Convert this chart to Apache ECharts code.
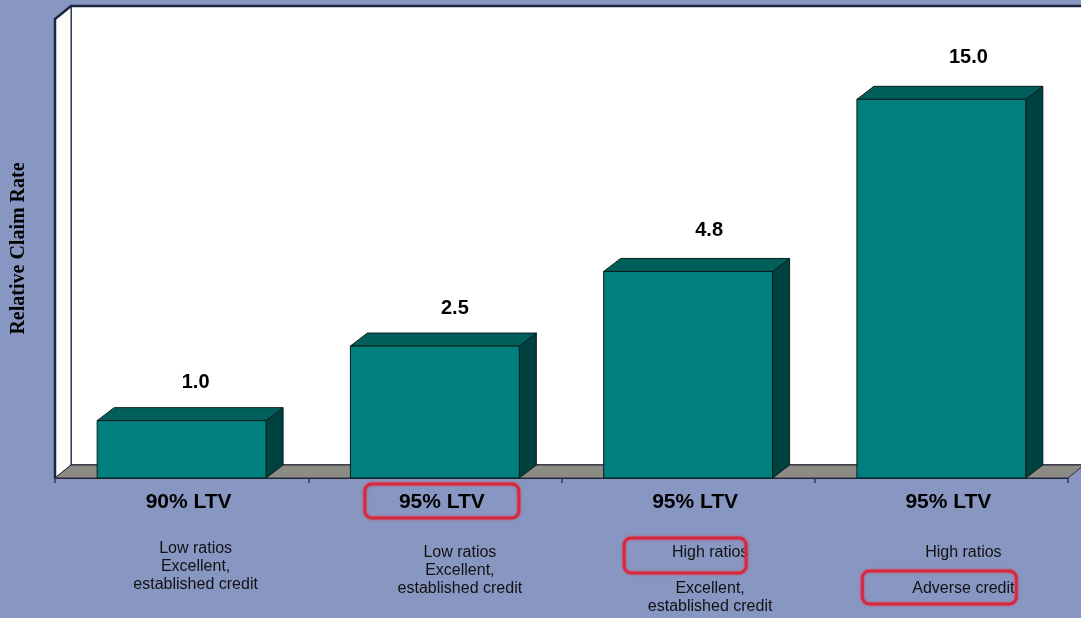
<!DOCTYPE html>
<html><head><meta charset="utf-8">
<script src="https://cdn.jsdelivr.net/npm/echarts@6/dist/echarts.min.js"></script>
<style>html,body{margin:0;padding:0;background:#8797c2;} #c{width:1081px;height:618px;}</style>
</head><body><div id="c"></div>
<script>
// ---- data ----
const categories = ['90% LTV', '95% LTV', '95% LTV', '95% LTV'];
const claimRates = [1.0, 2.5, 4.8, 15.0];          // printed value labels
const barHeights = [1.0, 2.3, 3.6, 6.6];           // drawn bar heights as seen in the picture
const ratioNotes = ['Low ratios', 'Low ratios', 'High ratios', 'High ratios'];
const creditNotes = ['Excellent,\nestablished credit', 'Excellent,\nestablished credit', 'Excellent,\nestablished credit', 'Adverse credit'];
const markCategory = [false, true, false, false];
const markRatio = [false, false, true, false];
const markCredit = [false, false, false, true];

// ---- layout (positions / styles) ----
const DX = 17, DY = 13;
const labelDx = [14, 20, 21, 27];
const labelDy = [38, 38, 41, 42];
const noteDx = [14, 25, 22, 22];
const ratioY = [71, 75, 75, 75];
const creditY = [89, 93, 111, 111];
const boxLayout = {
  category: { dx: 7, y: 6, w: 154, h: 34 },
  ratio: { dx: -3, y: 60, w: 122, h: 35 },
  credit: { dx: -2, y: 93, w: 154, h: 33 }
};
const FONT = 'Arial, "Liberation Sans", Helvetica, sans-serif';
const RED = '#d8283c';

function box(cx, yb, L) {
  return {
    type: 'rect',
    shape: { x: cx + L.dx - L.w / 2, y: yb + L.y, width: L.w, height: L.h, r: 7 },
    style: { fill: 'none', stroke: RED, lineWidth: 3, shadowBlur: 3, shadowColor: 'rgba(235,40,60,0.7)' },
    z2: 20
  };
}

function renderWalls(params, api) {
  const cs = params.coordSys;
  const x = cs.x, y = cs.y, w = cs.width, h = cs.height;
  const yb = y + h;
  const d = 16, e = 13;
  const edge = '#1c2340';
  return {
    type: 'group',
    children: [
      { type: 'rect', shape: { x: x + d, y: y - e, width: w + 10, height: h }, style: { fill: '#ffffff', stroke: edge, lineWidth: 1.5 } },
      { type: 'polygon', shape: { points: [[x, y], [x + d, y - e], [x + d, yb - e], [x, yb]] }, style: { fill: '#fdfdfb', stroke: edge, lineWidth: 1 } },
      { type: 'polyline', shape: { points: [[x, yb], [x, y], [x + d, y - e], [x + w + 20, y - e]] }, style: { fill: 'none', stroke: edge, lineWidth: 2.5 } },
      { type: 'polygon', shape: { points: [[x, yb], [x + d, yb - e], [x + w + d, yb - e], [x + w, yb]] }, style: { fill: '#8c8b86', stroke: '#2a2a30', lineWidth: 1 } }
    ]
  };
}

function renderBar(params, api) {
  const i = api.value(0);
  const h = api.value(1);
  const base = api.coord([i, 0]);
  const top = api.coord([i, h]);
  const bw = api.size([1, 0])[0] * 0.667;
  const cx = base[0];
  const x0 = cx - bw / 2, x1 = cx + bw / 2;
  const yb = base[1], yt = top[1];
  const out = '#0b1c1c';
  const children = [
    { type: 'polygon', shape: { points: [[x1, yb], [x1, yt], [x1 + DX, yt - DY], [x1 + DX, yb - DY]] }, style: { fill: '#00423f', stroke: out, lineWidth: 1 } },
    { type: 'polygon', shape: { points: [[x0, yt], [x0 + DX, yt - DY], [x1 + DX, yt - DY], [x1, yt]] }, style: { fill: '#005f5b', stroke: out, lineWidth: 1 } },
    { type: 'rect', shape: { x: x0, y: yt, width: bw, height: yb - yt }, style: { fill: '#007f7e', stroke: out, lineWidth: 1 } },
    { type: 'text', x: cx + labelDx[i], y: yt - labelDy[i], style: { text: claimRates[i].toFixed(1), fill: '#000', font: 'bold 20px ' + FONT, align: 'center', verticalAlign: 'middle' } },
    { type: 'text', x: cx + noteDx[i], y: yb + ratioY[i], style: { text: ratioNotes[i], fill: '#111', font: '16px ' + FONT, align: 'center', verticalAlign: 'middle' } },
    { type: 'text', x: cx + noteDx[i], y: yb + creditY[i] - 9, style: { text: creditNotes[i], fill: '#111', font: '16px ' + FONT, lineHeight: 18, align: 'center', verticalAlign: 'top' } }
  ];
  if (markCategory[i]) children.push(box(cx, yb, boxLayout.category));
  if (markRatio[i]) children.push(box(cx, yb, boxLayout.ratio));
  if (markCredit[i]) children.push(box(cx, yb, boxLayout.credit));
  return { type: 'group', children };
}

const chart = echarts.init(document.getElementById('c'), null, { renderer: 'canvas' });
chart.setOption({
  backgroundColor: '#8797c2',
  animation: false,
  grid: { left: 55, right: 13, top: 19, bottom: 140 },
  xAxis: {
    type: 'category',
    data: categories,
    axisLine: { show: true, lineStyle: { color: '#1c2340', width: 2 } },
    axisTick: { show: true, length: 5, lineStyle: { color: '#2a3a6a', width: 1.5 } },
    axisLabel: { margin: 14, color: '#000', fontSize: 21, fontWeight: 'bold', fontFamily: FONT, padding: [0, 0, 0, 14], lineHeight: 21 },
    splitLine: { show: false }
  },
  yAxis: {
    type: 'value', min: 0, max: 8,
    name: 'Relative Claim Rate',
    nameLocation: 'middle', nameRotate: 90, nameGap: 26,
    nameTextStyle: { color: '#000', fontSize: 20, fontWeight: 'bold', fontFamily: '"Liberation Serif", "Times New Roman", serif' },
    axisLine: { show: false }, axisTick: { show: false }, axisLabel: { show: false }, splitLine: { show: false }
  },
  series: [
    { type: 'custom', z: 1, renderItem: renderWalls, data: [[0, 0]], clip: false, silent: true },
    { type: 'custom', z: 5, renderItem: renderBar, clip: false, data: categories.map((c, i) => [i, barHeights[i]]) }
  ]
});
</script></body></html>
